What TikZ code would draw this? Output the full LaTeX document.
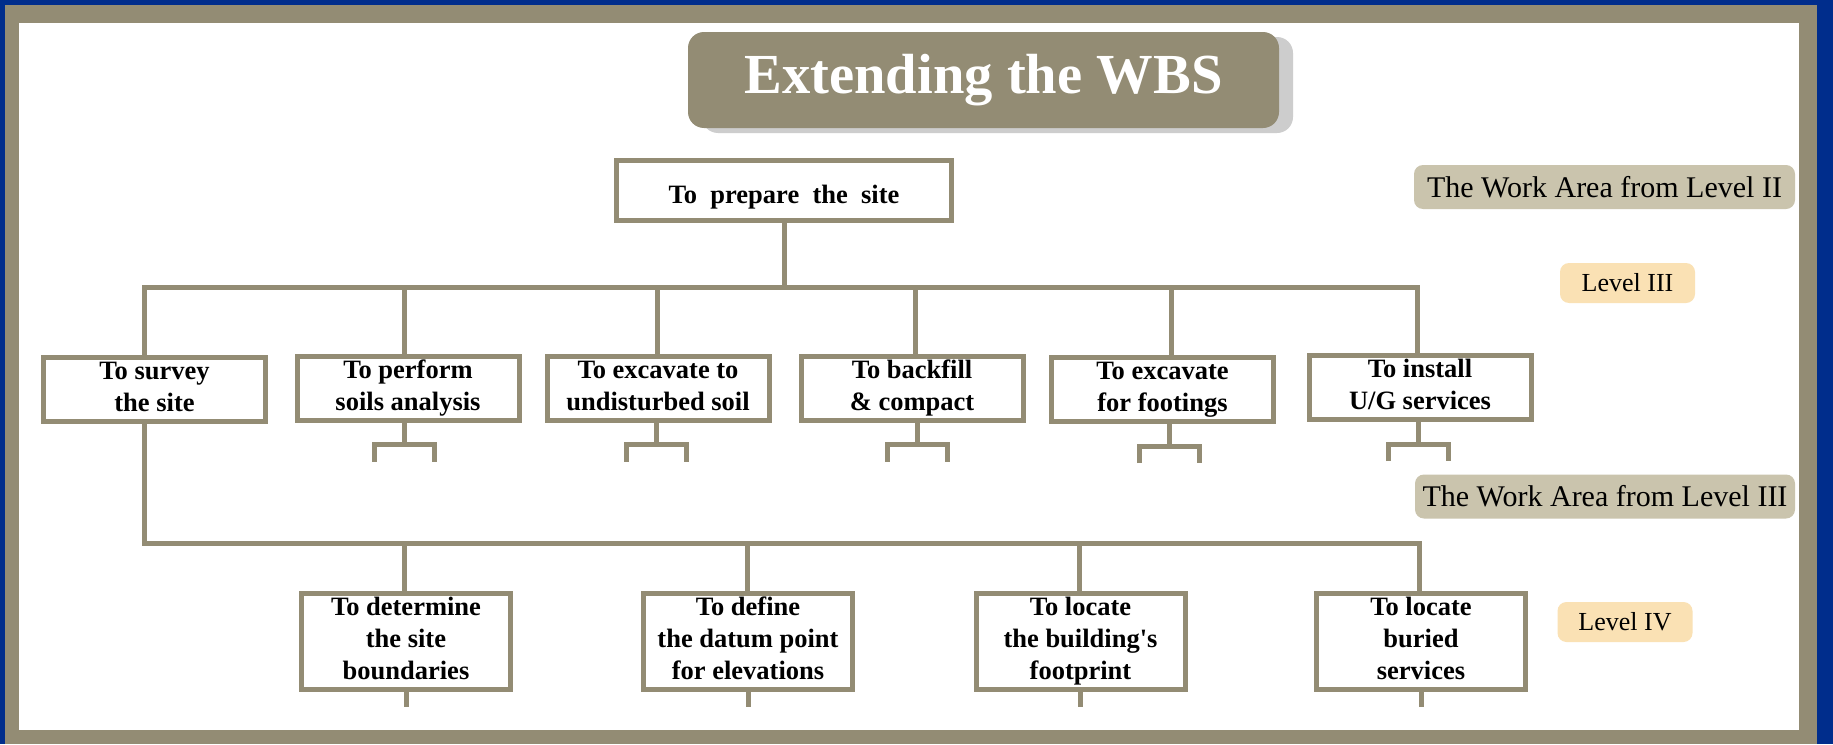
\documentclass[tikz,border=0pt]{standalone}
\usepackage{fontspec}
\setmainfont{Liberation Serif}
\usetikzlibrary{calc,shadows}

\definecolor{frameblue}{RGB}{0,45,140}
\definecolor{wbstan}{RGB}{147,140,116}
\definecolor{labeltan}{RGB}{202,196,173}
\definecolor{labelpeach}{RGB}{250,225,180}
\definecolor{shadowgray}{RGB}{205,205,205}

\tikzset{
  wbsline/.style={draw=wbstan, line width=5pt, line join=miter},
  taskbox/.style={draw=wbstan, line width=5pt, fill=white, align=center,
    inner sep=0pt, font=\fontsize{26.5}{32}\selectfont\bfseries},
  lvlthree/.style={taskbox, minimum width=222pt, minimum height=64pt},
  lvlfour/.style={taskbox, minimum width=209pt, minimum height=93pt},
  arealabel/.style={fill=labeltan, rounded corners=9pt, inner sep=0pt,
    minimum height=44pt, font=\fontsize{30}{36}\selectfont},
  levellabel/.style={fill=labelpeach, rounded corners=9pt, inner sep=0pt,
    minimum width=135pt, minimum height=40pt, font=\fontsize{26}{30}\selectfont},
  titlebox/.style={fill=wbstan, rounded corners=16pt, text=white, inner sep=0pt,
    minimum width=591pt, minimum height=96pt,
    font=\fontsize{56.6}{64}\selectfont\bfseries,
    drop shadow={fill=shadowgray, opacity=1, shadow xshift=14pt, shadow yshift=-5pt}},
}

\begin{document}
\begin{tikzpicture}[x=1pt, y=-1pt]
  \useasboundingbox (0,0) rectangle (1833,744);

  % slide frame
  \fill[frameblue] (0,0) rectangle (1833,744);
  \fill[wbstan] (5,5) rectangle (1817,744);
  \fill[white] (19,23) rectangle (1799,730);

  % heading
  \node[titlebox] (title) at (983.5,80) {Extending the WBS};

  % level II work area
  \node[taskbox, minimum width=335pt, minimum height=60pt,
        text height=25pt, text depth=0pt] (prep) at (784,190.5)
        {To\hspace{.5em}prepare\hspace{.5em}the\hspace{.5em}site};

  % level III tasks
  \node[lvlthree] (survey)   at (154.5,389.5) {\strut To survey\\\strut the site};
  \node[lvlthree] (soils)    at (408,388)     {\strut To perform\\\strut soils analysis};
  \node[lvlthree] (excav)    at (658,388)     {\strut To excavate to\\\strut undisturbed soil};
  \node[lvlthree] (backfill) at (912,388)     {\strut To backfill\\\strut \& compact};
  \node[lvlthree] (footings) at (1162.5,389.5){\strut To excavate\\\strut for footings};
  \node[lvlthree] (install)  at (1420,387.5)  {\strut To install\\\strut U/G services};

  % level IV tasks under the survey
  \node[lvlfour] (bounds)    at (406,641)    {\strut To determine\\\strut the site\\\strut boundaries};
  \node[lvlfour] (datum)     at (748,641)    {\strut To define\\\strut the datum point\\\strut for elevations};
  \node[lvlfour] (footprint) at (1080.5,641) {\strut To locate\\\strut the building\textquotesingle s\\\strut footprint};
  \node[lvlfour] (buried)    at (1421,641)   {\strut To locate\\\strut buried\\\strut services};

  % level tags
  \node[arealabel, minimum width=381pt] (areaII)  at (1604.5,187) {The Work Area from Level II};
  \node[levellabel] (lvlIII) at (1627.5,283) {Level III};
  \node[arealabel, minimum width=380pt] (areaIII) at (1605,496.5) {The Work Area from Level III};
  \node[levellabel] (lvlIV)  at (1625,622)   {Level IV};

  % bus from level II to level III
  \coordinate (b1) at (144,287);
  \coordinate (b2) at (404,287);
  \coordinate (b3) at (657,287);
  \coordinate (b4) at (915,287);
  \coordinate (b5) at (1171,287);
  \coordinate (b6) at (1417,287);
  \draw[wbsline] (prep.south) -- (prep.south |- b1);
  \draw[wbsline] (survey.north -| b1) -- (b1) -- (b6) -- (install.north -| b6);
  \draw[wbsline] (b2) -- (b2 |- soils.north);
  \draw[wbsline] (b3) -- (b3 |- excav.north);
  \draw[wbsline] (b4) -- (b4 |- backfill.north);
  \draw[wbsline] (b5) -- (b5 |- footings.north);

  % bus from the survey to level IV
  \coordinate (d1) at (144,543);
  \coordinate (d2) at (404,543);
  \coordinate (d3) at (747,543);
  \coordinate (d4) at (1079,543);
  \coordinate (d5) at (1419,543);
  \draw[wbsline] (survey.south -| d1) -- (d1) -- (d5) -- (d5 |- buried.north);
  \draw[wbsline] (d2) -- (d2 |- bounds.north);
  \draw[wbsline] (d3) -- (d3 |- datum.north);
  \draw[wbsline] (d4) -- (d4 |- footprint.north);

  % open forks below the other level III tasks
  \foreach \n/\dx in {soils/-4, excav/-2, backfill/5, footings/6.5, install/-2} {
    \draw[wbsline] ([xshift=\dx pt]\n.south) -- ++(0,22) coordinate (\n-fork);
    \draw[wbsline] (\n-fork) ++(-30,17) -- ++(0,-17) -- ++(60,0) -- ++(0,17);
  }

  % stubs below the level IV tasks
  \foreach \n in {bounds, datum, footprint, buried}
    \draw[wbsline] (\n.south) -- ++(0,15);
\end{tikzpicture}
\end{document}
